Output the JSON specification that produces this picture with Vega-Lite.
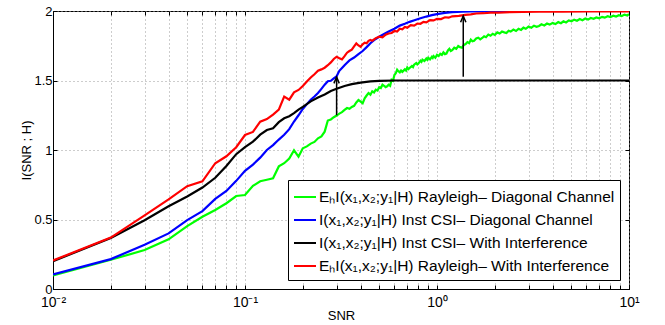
{
  "$schema": "https://vega.github.io/schema/vega-lite/v6.json",
  "width": 576,
  "height": 278,
  "autosize": {"type": "none"},
  "padding": {"left": 53, "top": 11, "right": 36, "bottom": 36},
  "background": "white",
  "datasets": {
    "curves": [
      {"s":"g","snr":0.01,"mi":0.098},{"s":"g","snr":0.02,"mi":0.210},{"s":"g","snr":0.03,"mi":0.280},{"s":"g","snr":0.04,"mi":0.357},{"s":"g","snr":0.05,"mi":0.452},{"s":"g","snr":0.06,"mi":0.520},{"s":"g","snr":0.07,"mi":0.568},{"s":"g","snr":0.08,"mi":0.617},{"s":"g","snr":0.09,"mi":0.669},{"s":"g","snr":0.10,"mi":0.676},
      {"s":"g","snr":0.11,"mi":0.742},{"s":"g","snr":0.12,"mi":0.775},{"s":"g","snr":0.13,"mi":0.786},{"s":"g","snr":0.14,"mi":0.797},{"s":"g","snr":0.15,"mi":0.882},{"s":"g","snr":0.16,"mi":0.905},{"s":"g","snr":0.17,"mi":0.938},{"s":"g","snr":0.18,"mi":0.998},{"s":"g","snr":0.19,"mi":0.952},{"s":"g","snr":0.20,"mi":1.012},
      {"s":"g","snr":0.21,"mi":1.026},{"s":"g","snr":0.22,"mi":1.046},{"s":"g","snr":0.23,"mi":1.058},{"s":"g","snr":0.24,"mi":1.084},{"s":"g","snr":0.25,"mi":1.098},{"s":"g","snr":0.26,"mi":1.132},{"s":"g","snr":0.27,"mi":1.212},{"s":"g","snr":0.28,"mi":1.220},{"s":"g","snr":0.29,"mi":1.236},{"s":"g","snr":0.30,"mi":1.248},
      {"s":"g","snr":0.31,"mi":1.262},{"s":"g","snr":0.32,"mi":1.272},{"s":"g","snr":0.33,"mi":1.288},{"s":"g","snr":0.34,"mi":1.302},{"s":"g","snr":0.35,"mi":1.296},{"s":"g","snr":0.36,"mi":1.310},{"s":"g","snr":0.37,"mi":1.318},{"s":"g","snr":0.38,"mi":1.342},{"s":"g","snr":0.39,"mi":1.360},{"s":"g","snr":0.40,"mi":1.348},
      {"s":"g","snr":0.41,"mi":1.336},{"s":"g","snr":0.42,"mi":1.372},{"s":"g","snr":0.43,"mi":1.392},{"s":"g","snr":0.44,"mi":1.410},{"s":"g","snr":0.45,"mi":1.398},{"s":"g","snr":0.46,"mi":1.422},{"s":"g","snr":0.47,"mi":1.414},{"s":"g","snr":0.48,"mi":1.434},{"s":"g","snr":0.49,"mi":1.428},{"s":"g","snr":0.50,"mi":1.452},
      {"s":"g","snr":0.51,"mi":1.446},{"s":"g","snr":0.52,"mi":1.470},{"s":"g","snr":0.53,"mi":1.462},{"s":"g","snr":0.54,"mi":1.452},{"s":"g","snr":0.55,"mi":1.458},{"s":"g","snr":0.56,"mi":1.470},{"s":"g","snr":0.57,"mi":1.462},{"s":"g","snr":0.58,"mi":1.505},{"s":"g","snr":0.59,"mi":1.498},{"s":"g","snr":0.60,"mi":1.540},
      {"s":"g","snr":0.61,"mi":1.552},{"s":"g","snr":0.62,"mi":1.578},{"s":"g","snr":0.63,"mi":1.566},{"s":"g","snr":0.64,"mi":1.558},{"s":"g","snr":0.65,"mi":1.572},{"s":"g","snr":0.66,"mi":1.562},{"s":"g","snr":0.68,"mi":1.580},{"s":"g","snr":0.69,"mi":1.572},{"s":"g","snr":0.70,"mi":1.594},{"s":"g","snr":0.71,"mi":1.582},
      {"s":"g","snr":0.72,"mi":1.590},{"s":"g","snr":0.74,"mi":1.604},{"s":"g","snr":0.75,"mi":1.596},{"s":"g","snr":0.76,"mi":1.614},{"s":"g","snr":0.78,"mi":1.626},{"s":"g","snr":0.79,"mi":1.616},{"s":"g","snr":0.80,"mi":1.622},{"s":"g","snr":0.82,"mi":1.642},{"s":"g","snr":0.83,"mi":1.634},{"s":"g","snr":0.84,"mi":1.650},
      {"s":"g","snr":0.86,"mi":1.640},{"s":"g","snr":0.88,"mi":1.658},{"s":"g","snr":0.89,"mi":1.650},{"s":"g","snr":0.90,"mi":1.664},{"s":"g","snr":0.92,"mi":1.652},{"s":"g","snr":0.94,"mi":1.670},{"s":"g","snr":0.95,"mi":1.662},{"s":"g","snr":0.96,"mi":1.676},{"s":"g","snr":0.98,"mi":1.664},{"s":"g","snr":1.00,"mi":1.684},
      {"s":"g","snr":1.02,"mi":1.676},{"s":"g","snr":1.04,"mi":1.692},{"s":"g","snr":1.06,"mi":1.684},{"s":"g","snr":1.08,"mi":1.702},{"s":"g","snr":1.10,"mi":1.690},{"s":"g","snr":1.12,"mi":1.694},{"s":"g","snr":1.14,"mi":1.716},{"s":"g","snr":1.16,"mi":1.728},{"s":"g","snr":1.18,"mi":1.712},{"s":"g","snr":1.20,"mi":1.718},
      {"s":"g","snr":1.23,"mi":1.736},{"s":"g","snr":1.26,"mi":1.728},{"s":"g","snr":1.29,"mi":1.748},{"s":"g","snr":1.32,"mi":1.740},{"s":"g","snr":1.35,"mi":1.736},{"s":"g","snr":1.38,"mi":1.756},{"s":"g","snr":1.41,"mi":1.762},{"s":"g","snr":1.44,"mi":1.776},{"s":"g","snr":1.47,"mi":1.768},{"s":"g","snr":1.50,"mi":1.794},
      {"s":"g","snr":1.53,"mi":1.782},{"s":"g","snr":1.56,"mi":1.786},{"s":"g","snr":1.60,"mi":1.802},{"s":"g","snr":1.64,"mi":1.808},{"s":"g","snr":1.68,"mi":1.796},{"s":"g","snr":1.72,"mi":1.806},{"s":"g","snr":1.76,"mi":1.818},{"s":"g","snr":1.80,"mi":1.812},{"s":"g","snr":1.85,"mi":1.830},{"s":"g","snr":1.90,"mi":1.822},
      {"s":"g","snr":1.95,"mi":1.836},{"s":"g","snr":2.00,"mi":1.828},{"s":"g","snr":2.06,"mi":1.846},{"s":"g","snr":2.12,"mi":1.838},{"s":"g","snr":2.18,"mi":1.852},{"s":"g","snr":2.24,"mi":1.846},{"s":"g","snr":2.30,"mi":1.842},{"s":"g","snr":2.36,"mi":1.858},{"s":"g","snr":2.42,"mi":1.852},{"s":"g","snr":2.50,"mi":1.866},
      {"s":"g","snr":2.58,"mi":1.856},{"s":"g","snr":2.66,"mi":1.872},{"s":"g","snr":2.74,"mi":1.864},{"s":"g","snr":2.82,"mi":1.880},{"s":"g","snr":2.90,"mi":1.872},{"s":"g","snr":3.00,"mi":1.888},{"s":"g","snr":3.10,"mi":1.880},{"s":"g","snr":3.20,"mi":1.894},{"s":"g","snr":3.30,"mi":1.886},{"s":"g","snr":3.40,"mi":1.892},
      {"s":"g","snr":3.50,"mi":1.904},{"s":"g","snr":3.62,"mi":1.896},{"s":"g","snr":3.74,"mi":1.910},{"s":"g","snr":3.86,"mi":1.902},{"s":"g","snr":4.00,"mi":1.914},{"s":"g","snr":4.14,"mi":1.906},{"s":"g","snr":4.28,"mi":1.920},{"s":"g","snr":4.42,"mi":1.912},{"s":"g","snr":4.56,"mi":1.926},{"s":"g","snr":4.70,"mi":1.918},
      {"s":"g","snr":4.86,"mi":1.932},{"s":"g","snr":5.02,"mi":1.926},{"s":"g","snr":5.18,"mi":1.938},{"s":"g","snr":5.36,"mi":1.930},{"s":"g","snr":5.54,"mi":1.942},{"s":"g","snr":5.72,"mi":1.934},{"s":"g","snr":5.92,"mi":1.946},{"s":"g","snr":6.12,"mi":1.938},{"s":"g","snr":6.32,"mi":1.950},{"s":"g","snr":6.54,"mi":1.944},
      {"s":"g","snr":6.76,"mi":1.954},{"s":"g","snr":7.00,"mi":1.948},{"s":"g","snr":7.24,"mi":1.958},{"s":"g","snr":7.48,"mi":1.952},{"s":"g","snr":7.74,"mi":1.962},{"s":"g","snr":8.00,"mi":1.956},{"s":"g","snr":8.28,"mi":1.966},{"s":"g","snr":8.56,"mi":1.960},{"s":"g","snr":8.86,"mi":1.970},{"s":"g","snr":9.16,"mi":1.964},
      {"s":"g","snr":9.48,"mi":1.974},{"s":"g","snr":9.80,"mi":1.968},{"s":"g","snr":10.0,"mi":1.978},

      {"s":"b","snr":0.01,"mi":0.105},{"s":"b","snr":0.02,"mi":0.215},{"s":"b","snr":0.03,"mi":0.318},{"s":"b","snr":0.04,"mi":0.400},{"s":"b","snr":0.05,"mi":0.496},{"s":"b","snr":0.06,"mi":0.560},{"s":"b","snr":0.07,"mi":0.648},{"s":"b","snr":0.08,"mi":0.705},{"s":"b","snr":0.09,"mi":0.778},{"s":"b","snr":0.10,"mi":0.850},
      {"s":"b","snr":0.11,"mi":0.895},{"s":"b","snr":0.12,"mi":0.945},{"s":"b","snr":0.13,"mi":1.000},{"s":"b","snr":0.14,"mi":1.035},{"s":"b","snr":0.15,"mi":1.075},{"s":"b","snr":0.16,"mi":1.110},{"s":"b","snr":0.17,"mi":1.150},{"s":"b","snr":0.18,"mi":1.205},{"s":"b","snr":0.19,"mi":1.250},{"s":"b","snr":0.20,"mi":1.295},
      {"s":"b","snr":0.21,"mi":1.330},{"s":"b","snr":0.22,"mi":1.362},{"s":"b","snr":0.23,"mi":1.385},{"s":"b","snr":0.24,"mi":1.410},{"s":"b","snr":0.25,"mi":1.440},{"s":"b","snr":0.26,"mi":1.470},{"s":"b","snr":0.27,"mi":1.495},{"s":"b","snr":0.28,"mi":1.498},{"s":"b","snr":0.29,"mi":1.515},{"s":"b","snr":0.30,"mi":1.530},
      {"s":"b","snr":0.31,"mi":1.570},{"s":"b","snr":0.32,"mi":1.590},{"s":"b","snr":0.33,"mi":1.610},{"s":"b","snr":0.34,"mi":1.628},{"s":"b","snr":0.35,"mi":1.645},{"s":"b","snr":0.37,"mi":1.665},{"s":"b","snr":0.39,"mi":1.690},{"s":"b","snr":0.41,"mi":1.712},{"s":"b","snr":0.43,"mi":1.740},{"s":"b","snr":0.45,"mi":1.768},
      {"s":"b","snr":0.47,"mi":1.790},{"s":"b","snr":0.50,"mi":1.815},{"s":"b","snr":0.53,"mi":1.835},{"s":"b","snr":0.56,"mi":1.852},{"s":"b","snr":0.60,"mi":1.872},{"s":"b","snr":0.64,"mi":1.895},{"s":"b","snr":0.68,"mi":1.908},{"s":"b","snr":0.72,"mi":1.922},{"s":"b","snr":0.77,"mi":1.935},{"s":"b","snr":0.82,"mi":1.948},
      {"s":"b","snr":0.88,"mi":1.960},{"s":"b","snr":0.94,"mi":1.970},{"s":"b","snr":1.00,"mi":1.978},{"s":"b","snr":1.10,"mi":1.986},{"s":"b","snr":1.20,"mi":1.992},{"s":"b","snr":1.35,"mi":1.996},{"s":"b","snr":1.50,"mi":1.998},{"s":"b","snr":2.00,"mi":1.999},{"s":"b","snr":3.00,"mi":2.000},{"s":"b","snr":10.0,"mi":2.000},

      {"s":"k","snr":0.01,"mi":0.200},{"s":"k","snr":0.02,"mi":0.367},{"s":"k","snr":0.03,"mi":0.495},{"s":"k","snr":0.04,"mi":0.595},{"s":"k","snr":0.05,"mi":0.665},{"s":"k","snr":0.06,"mi":0.730},{"s":"k","snr":0.07,"mi":0.800},{"s":"k","snr":0.08,"mi":0.885},{"s":"k","snr":0.09,"mi":0.970},{"s":"k","snr":0.10,"mi":1.020},
      {"s":"k","snr":0.11,"mi":1.060},{"s":"k","snr":0.12,"mi":1.110},{"s":"k","snr":0.13,"mi":1.144},{"s":"k","snr":0.14,"mi":1.156},{"s":"k","snr":0.15,"mi":1.200},{"s":"k","snr":0.16,"mi":1.228},{"s":"k","snr":0.17,"mi":1.243},{"s":"k","snr":0.18,"mi":1.265},{"s":"k","snr":0.19,"mi":1.290},{"s":"k","snr":0.20,"mi":1.310},
      {"s":"k","snr":0.22,"mi":1.350},{"s":"k","snr":0.24,"mi":1.378},{"s":"k","snr":0.26,"mi":1.400},{"s":"k","snr":0.28,"mi":1.425},{"s":"k","snr":0.30,"mi":1.440},{"s":"k","snr":0.33,"mi":1.460},{"s":"k","snr":0.36,"mi":1.474},{"s":"k","snr":0.40,"mi":1.485},{"s":"k","snr":0.45,"mi":1.494},{"s":"k","snr":0.50,"mi":1.498},
      {"s":"k","snr":0.60,"mi":1.500},{"s":"k","snr":1.00,"mi":1.500},{"s":"k","snr":3.00,"mi":1.500},{"s":"k","snr":10.0,"mi":1.500},

      {"s":"r","snr":0.01,"mi":0.205},{"s":"r","snr":0.02,"mi":0.370},{"s":"r","snr":0.03,"mi":0.530},{"s":"r","snr":0.04,"mi":0.645},{"s":"r","snr":0.05,"mi":0.740},{"s":"r","snr":0.06,"mi":0.775},{"s":"r","snr":0.07,"mi":0.905},{"s":"r","snr":0.08,"mi":0.955},{"s":"r","snr":0.09,"mi":1.020},{"s":"r","snr":0.10,"mi":1.108},
      {"s":"r","snr":0.11,"mi":1.130},{"s":"r","snr":0.12,"mi":1.204},{"s":"r","snr":0.13,"mi":1.222},{"s":"r","snr":0.14,"mi":1.255},{"s":"r","snr":0.15,"mi":1.290},{"s":"r","snr":0.16,"mi":1.384},{"s":"r","snr":0.17,"mi":1.362},{"s":"r","snr":0.18,"mi":1.415},{"s":"r","snr":0.19,"mi":1.432},{"s":"r","snr":0.20,"mi":1.460},
      {"s":"r","snr":0.21,"mi":1.492},{"s":"r","snr":0.22,"mi":1.522},{"s":"r","snr":0.23,"mi":1.545},{"s":"r","snr":0.24,"mi":1.570},{"s":"r","snr":0.25,"mi":1.580},{"s":"r","snr":0.26,"mi":1.592},{"s":"r","snr":0.27,"mi":1.610},{"s":"r","snr":0.28,"mi":1.630},{"s":"r","snr":0.29,"mi":1.655},{"s":"r","snr":0.30,"mi":1.671},
      {"s":"r","snr":0.31,"mi":1.660},{"s":"r","snr":0.32,"mi":1.652},{"s":"r","snr":0.33,"mi":1.675},{"s":"r","snr":0.34,"mi":1.700},{"s":"r","snr":0.35,"mi":1.712},{"s":"r","snr":0.36,"mi":1.722},{"s":"r","snr":0.37,"mi":1.745},{"s":"r","snr":0.38,"mi":1.767},{"s":"r","snr":0.39,"mi":1.752},{"s":"r","snr":0.40,"mi":1.743},
      {"s":"r","snr":0.41,"mi":1.760},{"s":"r","snr":0.42,"mi":1.772},{"s":"r","snr":0.43,"mi":1.768},{"s":"r","snr":0.44,"mi":1.785},{"s":"r","snr":0.45,"mi":1.792},{"s":"r","snr":0.46,"mi":1.786},{"s":"r","snr":0.48,"mi":1.805},{"s":"r","snr":0.50,"mi":1.815},{"s":"r","snr":0.52,"mi":1.810},{"s":"r","snr":0.54,"mi":1.830},
      {"s":"r","snr":0.56,"mi":1.838},{"s":"r","snr":0.58,"mi":1.842},{"s":"r","snr":0.60,"mi":1.856},{"s":"r","snr":0.62,"mi":1.852},{"s":"r","snr":0.64,"mi":1.872},{"s":"r","snr":0.66,"mi":1.868},{"s":"r","snr":0.68,"mi":1.885},{"s":"r","snr":0.70,"mi":1.880},{"s":"r","snr":0.73,"mi":1.898},{"s":"r","snr":0.76,"mi":1.895},
      {"s":"r","snr":0.79,"mi":1.910},{"s":"r","snr":0.82,"mi":1.908},{"s":"r","snr":0.85,"mi":1.922},{"s":"r","snr":0.88,"mi":1.918},{"s":"r","snr":0.92,"mi":1.935},{"s":"r","snr":0.96,"mi":1.932},{"s":"r","snr":1.00,"mi":1.944},{"s":"r","snr":1.05,"mi":1.942},{"s":"r","snr":1.10,"mi":1.955},{"s":"r","snr":1.15,"mi":1.952},
      {"s":"r","snr":1.20,"mi":1.962},{"s":"r","snr":1.30,"mi":1.965},{"s":"r","snr":1.40,"mi":1.972},{"s":"r","snr":1.50,"mi":1.976},{"s":"r","snr":1.60,"mi":1.982},{"s":"r","snr":1.75,"mi":1.984},{"s":"r","snr":1.90,"mi":1.988},{"s":"r","snr":2.10,"mi":1.989},{"s":"r","snr":2.40,"mi":1.992},{"s":"r","snr":2.80,"mi":1.994},
      {"s":"r","snr":3.40,"mi":1.995},{"s":"r","snr":4.50,"mi":1.996},{"s":"r","snr":6.00,"mi":1.997},{"s":"r","snr":8.00,"mi":1.998},{"s":"r","snr":10.0,"mi":1.998}
    ],
    "arrows": [
      {"snr": 0.30, "y1": 1.25, "y2": 1.525},
      {"snr": 1.37, "y1": 1.527, "y2": 1.965}
    ]
  },
  "layer": [
    {
      "data": {"name": "curves"},
      "mark": {"type": "line", "strokeWidth": 2.2, "clip": true},
      "encoding": {
        "x": {
          "field": "snr", "type": "quantitative",
          "scale": {"type": "log", "domain": [0.01, 10], "nice": false},
          "axis": {
            "title": "SNR",
            "values": [0.01,0.02,0.03,0.04,0.05,0.06,0.07,0.08,0.09,0.1,0.2,0.3,0.4,0.5,0.6,0.7,0.8,0.9,1,2,3,4,5,6,7,8,9,10],
            "labelExpr": "datum.value == 0.01 ? '10⁻²' : datum.value == 0.1 ? '10⁻¹' : datum.value == 1 ? '10⁰' : datum.value == 10 ? '10¹' : ''",
            "labelOverlap": false,
            "labelFlush": false,
            "labelFontSize": 14,
            "labelPadding": 10,
            "titlePadding": 0
          }
        },
        "y": {
          "field": "mi", "type": "quantitative",
          "scale": {"domain": [0, 2], "nice": false, "zero": false},
          "axis": {
            "title": "I(SNR ; H)",
            "values": [0, 0.5, 1, 1.5, 2],
            "format": "~g",
            "labelPadding": 5,
            "titleX": -20,
            "titleY": 139,
            "titleAngle": 270,
            "titleBaseline": "bottom",
            "titleAlign": "center"
          }
        },
        "color": {
          "field": "s", "type": "nominal",
          "scale": {"domain": ["g", "b", "k", "r"], "range": ["#00ff00", "#0000ff", "#000000", "#ff0000"]},
          "legend": {
            "labelExpr": "datum.value == 'g' ? 'EₕI(x₁,x₂;y₁|H) Rayleigh– Diagonal Channel' : datum.value == 'b' ? 'I(x₁,x₂;y₁|H) Inst CSI– Diagonal Channel' : datum.value == 'k' ? 'I(x₁,x₂;y₁|H) Inst CSI– With Interference' : 'EₕI(x₁,x₂;y₁|H) Rayleigh– With Interference'"
          }
        }
      }
    },
    {
      "data": {"name": "arrows"},
      "mark": {"type": "rule", "color": "black", "strokeWidth": 1.5},
      "encoding": {
        "x": {"field": "snr", "type": "quantitative", "axis": {"orient": "top", "labels": false, "grid": false, "domain": false, "title": null, "tickSize": -4, "tickColor": "black", "values": [0.01,0.02,0.03,0.04,0.05,0.06,0.07,0.08,0.09,0.1,0.2,0.3,0.4,0.5,0.6,0.7,0.8,0.9,1,2,3,4,5,6,7,8,9,10]}},
        "y": {"field": "y1", "type": "quantitative", "axis": {"orient": "right", "labels": false, "grid": false, "domain": false, "title": null, "tickSize": -4, "tickColor": "black", "values": [0, 0.5, 1, 1.5, 2]}},
        "y2": {"field": "y2"}
      }
    },
    {
      "data": {"name": "arrows"},
      "mark": {"type": "point", "shape": "M-0.42,1L0,0L0.42,1", "size": 160, "filled": false, "stroke": "black", "strokeWidth": 1.5, "opacity": 1},
      "encoding": {
        "x": {"field": "snr", "type": "quantitative", "axis": null},
        "y": {"field": "y2", "type": "quantitative", "axis": null}
      }
    }
  ],
  "resolve": {"axis": {"x": "independent", "y": "independent"}},
  "config": {
    "view": {"stroke": "black", "strokeWidth": 1},
    "font": "Liberation Sans",
    "axis": {
      "labelFont": "Liberation Sans", "labelFontSize": 13, "labelColor": "black",
      "titleFont": "Liberation Sans", "titleFontSize": 13, "titleFontWeight": "normal", "titleColor": "black",
      "domainColor": "black", "domainWidth": 1,
      "tickColor": "black", "tickSize": -4, "tickWidth": 1,
      "grid": true, "gridColor": "#9a9a9a", "gridDash": [1, 3], "gridWidth": 1
    },
    "legend": {
      "orient": "bottom-right", "offset": 9, "title": null,
      "strokeColor": "black", "fillColor": "white", "padding": 5,
      "symbolType": "stroke", "symbolSize": 484, "symbolStrokeWidth": 2,
      "labelFont": "Liberation Sans", "labelFontSize": 15.5, "labelColor": "black", "labelLimit": 600,
      "labelOffset": 2, "rowPadding": 2
    }
  }
}
